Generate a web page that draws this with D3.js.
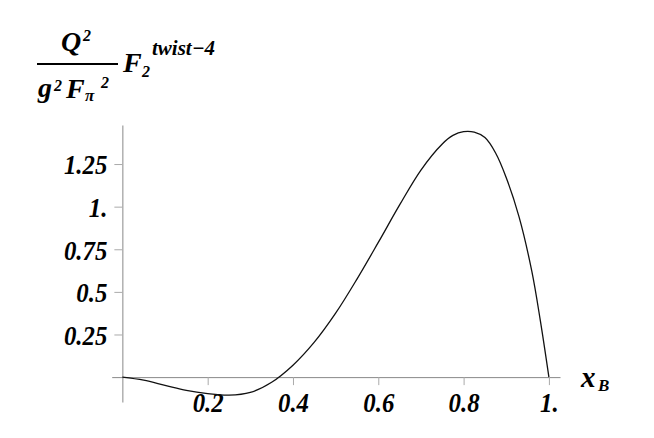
<!DOCTYPE html>
<html>
<head>
<meta charset="utf-8">
<script src="https://cdn.jsdelivr.net/npm/d3@7"></script>
<style>
  body { margin: 0; background: #fff; }
  svg { display: block; }
  .lbl { font-family: "Liberation Serif", "Times New Roman", serif; font-weight: bold; font-style: italic; fill: #000; }
</style>
</head>
<body>
<div id="chart"></div>
<script>
// curve
const xB = [0, 0.05, 0.1, 0.15, 0.2, 0.25, 0.3, 0.35, 0.4, 0.45, 0.5, 0.55, 0.6, 0.65, 0.7, 0.75, 0.775, 0.8, 0.825, 0.85, 0.875, 0.9, 0.93, 0.96, 0.98, 1.0];
const F2 = [0, -0.018, -0.048, -0.078, -0.097, -0.106, -0.09, -0.03, 0.07, 0.205, 0.375, 0.575, 0.79, 1.01, 1.215, 1.368, 1.418, 1.44, 1.437, 1.405, 1.315, 1.17, 0.94, 0.62, 0.33, 0];
const xTicks = [0.2, 0.4, 0.6, 0.8, 1.0];
const xTickLabels = ['0.2', '0.4', '0.6', '0.8', '1.'];
const yTicks = [0.25, 0.5, 0.75, 1.0, 1.25];
const yTickLabels = ['0.25', '0.5', '0.75', '1.', '1.25'];

const width = 654, height = 438;
const svg = d3.select('#chart').append('svg')
    .attr('width', width)
    .attr('height', height);

const x = d3.scaleLinear().domain([-0.025, 1.026]).range([111.7, 560]);
const y = d3.scaleLinear().domain([-0.146, 1.479]).range([402, 125]);

// squeeze a bit, the original font is narrower than Times
function condense(sel, k) {
    sel.each(function () {
        const w = this.getComputedTextLength();
        d3.select(this).attr('textLength', w * k).attr('lengthAdjust', 'spacingAndGlyphs');
    });
}

// y axis
const yAxis = svg.append('g')
    .attr('transform', 'translate(' + x(0) + ',0)')
    .call(d3.axisLeft(y).tickValues(yTicks).tickSize(8).tickSizeOuter(0).tickPadding(7)
        .tickFormat((d, i) => yTickLabels[i]));
yAxis.attr('font-family', null);
yAxis.select('.domain').attr('stroke', '#888');
yAxis.selectAll('.tick line').attr('stroke', '#aaa');
yAxis.selectAll('.tick text').attr('class', 'lbl').attr('font-size', 27).attr('dy', '0.36em')
    .call(condense, 0.92);

// x axis
const xAxis = svg.append('g')
    .attr('transform', 'translate(0,' + y(0) + ')')
    .call(d3.axisBottom(x).tickValues(xTicks).tickSize(8).tickSizeOuter(0)
        .tickFormat((d, i) => xTickLabels[i]));
xAxis.attr('font-family', null);
xAxis.select('.domain').attr('stroke', '#888');
xAxis.selectAll('.tick line').attr('stroke', '#aaa');
xAxis.selectAll('.tick text').attr('class', 'lbl').attr('font-size', 27).attr('y', 35).attr('dy', 0)
    .call(condense, 0.92);

// curve
const line = d3.line()
    .x((d, i) => x(xB[i]))
    .y(d => y(d))
    .curve(d3.curveCatmullRom.alpha(0.5));
svg.append('path')
    .datum(F2)
    .attr('d', line)
    .attr('fill', 'none')
    .attr('stroke', '#111')
    .attr('stroke-width', 1.3);

// axis label x_B
svg.append('text').attr('class', 'lbl').attr('x', 581).attr('y', 387).attr('font-size', 29).text('x');
svg.append('text').attr('class', 'lbl').attr('x', 598).attr('y', 391).attr('font-size', 17).text('B');

// y label: Q^2 / (g^2 F_pi^2) F_2^{twist-4}
const t = svg.append('g').attr('class', 'title');
function piece(px, py, size, str) {
    t.append('text').attr('class', 'lbl').attr('x', px).attr('y', py).attr('font-size', size).text(str);
}
piece(61, 51, 28, 'Q');
piece(83, 41, 16, '2');
t.append('line')
    .attr('x1', 37).attr('x2', 118).attr('y1', 64).attr('y2', 64)
    .attr('stroke', '#000').attr('stroke-width', 2);
piece(38, 97, 28, 'g');
piece(54, 91, 16, '2');
piece(66, 98, 28, 'F');
piece(85, 101, 17, 'π');
piece(101, 88, 16, '2');
piece(123, 72, 28, 'F');
piece(142, 77, 16, '2');
piece(152, 55, 21, 'twist\u22124');
</script>
</body>
</html>
